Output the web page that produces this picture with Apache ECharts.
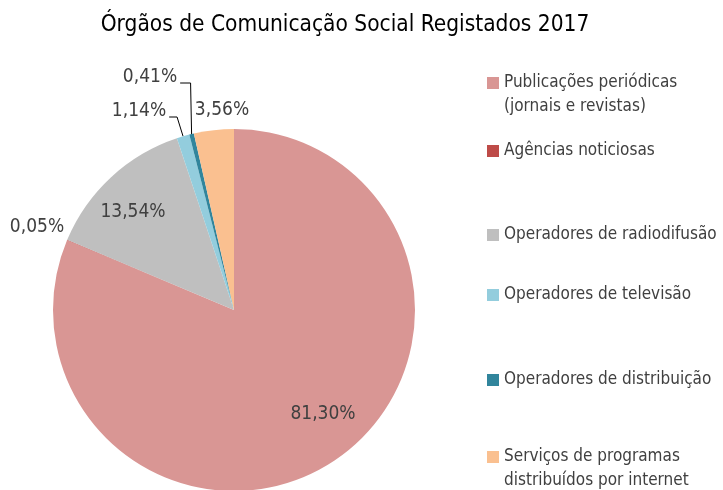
<!DOCTYPE html>
<html>
<head>
<meta charset="utf-8">
<script src="https://cdn.jsdelivr.net/npm/echarts@6/dist/echarts.min.js"></script>
<style>
  html, body { margin: 0; padding: 0; background: #fff; }
  #main { width: 723px; height: 490px; }
</style>
</head>
<body>
<div id="main"></div>
<script>
// categorias e valores (%)
const categories = [
  "Publicações periódicas\n(jornais e revistas)",
  "Agências noticiosas",
  "Operadores de radiodifusão",
  "Operadores de televisão",
  "Operadores de distribuição",
  "Serviços de programas\ndistribuídos por internet",
];
const values = [81.30, 0.05, 13.54, 1.14, 0.41, 3.56];
const colors = ["#d99694", "#be4b48", "#bfbfbf", "#93cddd", "#31859c", "#fac090"];

const FONT = "'Liberation Sans Narrow', 'DejaVu Sans Condensed', sans-serif";
const CX = 234, CY = 310, R = 181;

// centro de cada rótulo (como no Excel) e topo de cada entrada da legenda
const labelPos = [[323, 414], [37, 227], [133, 212], [139, 111], [150, 77], [222, 110]];
const leaderElbow = [null, null, null, 6, 1, null];
const legendTop = [71, 139, 223, 283, 368, 445];

const fmt = (v) => v.toFixed(2).replace(".", ",") + "%";

// ponto na borda da fatia (ângulo médio) para a linha de chamada
function edgePoint(i) {
  let before = 0;
  for (let k = 0; k < i; k++) before += values[k];
  const total = values.reduce((a, b) => a + b, 0);
  const a = ((before + values[i] / 2) / total) * 2 * Math.PI;
  return [CX + R * Math.sin(a), CY - R * Math.cos(a)];
}

const chartDom = document.getElementById("main");
const myChart = echarts.init(chartDom);

const legends = categories.map((name, i) => {
  const twoLines = name.indexOf("\n") >= 0;
  return {
    orient: "vertical",
    left: 487,
    top: legendTop[i],
    padding: 0,
    itemWidth: 12,
    itemHeight: twoLines ? 36 : 12,
    // quadrado alinhado com a primeira linha do texto
    icon: twoLines ? "path://M0,0H12V12H0Z M0,36L0.01,36" : "rect",
    itemGap: 0,
    textStyle: { fontFamily: FONT, fontSize: 17, color: "#404040", lineHeight: 24 },
    data: [name],
  };
});

const option = {
  animation: false,
  textStyle: { fontFamily: FONT },
  title: {
    text: "Órgãos de Comunicação Social Registados 2017",
    left: 340,
    top: 9,
    textAlign: "center",
    textStyle: { fontFamily: FONT, fontSize: 22.5, fontWeight: "normal", color: "#000" },
  },
  legend: legends,
  series: [
    {
      type: "pie",
      center: [CX, CY],
      radius: R,
      startAngle: 90,
      clockwise: true,
      color: colors,
      label: {
        color: "#404040",
        fontFamily: FONT,
        fontSize: 19,
        overflow: "none",
        formatter: (p) => fmt(p.value),
      },
      labelLine: { show: false, lineStyle: { color: "#000", width: 1 } },
      data: categories.map((name, i) => {
        const item = { name, value: values[i] };
        if (i === 0 || i === 2) {
          item.label = { position: "inside" };
        } else {
          item.label = { position: "outside" };
          if (leaderElbow[i] != null) {
            item.labelLine = { show: true, length: 10, length2: 10 };
          }
        }
        return item;
      }),
      labelLayout: (params) => {
        const i = params.dataIndex;
        const [x, y] = labelPos[i];
        const out = { x, y, align: "center", verticalAlign: "middle" };
        if (leaderElbow[i] != null) {
          const e = edgePoint(i);
          const right = x + params.labelRect.width / 2;
          const lineY = y + 6;
          out.labelLinePoints = [e, [e[0] - leaderElbow[i], lineY], [right + 3, lineY]];
        }
        return out;
      },
    },
  ],
};

myChart.setOption(option);
</script>
</body>
</html>
